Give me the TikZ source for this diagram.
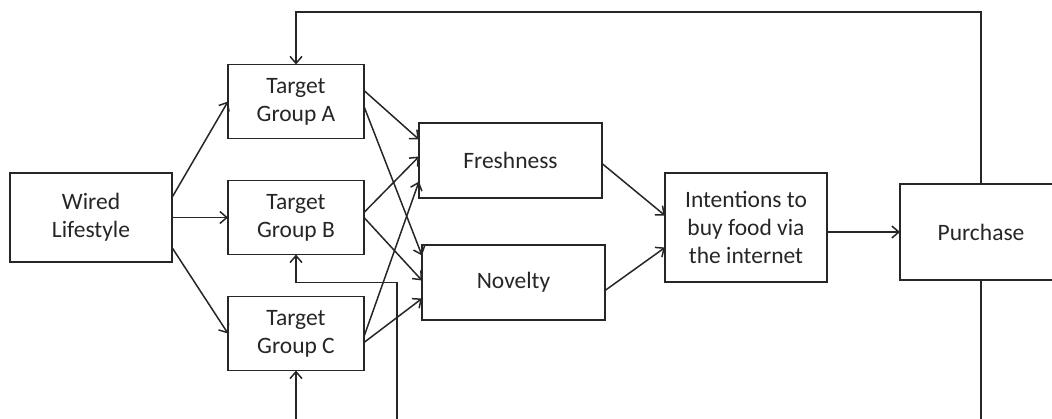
\documentclass[tikz,border=0pt]{standalone}
\usepackage{fontspec}
\setmainfont{Carlito}
\usepackage{xcolor}
\usetikzlibrary{arrows.meta,positioning,calc}
\definecolor{inkgray}{HTML}{262626}

\begin{document}
\begin{tikzpicture}[x=1pt,y=-1pt,
		bx/.style={draw=inkgray,line width=1.5pt,outer sep=0pt,inner sep=0pt,
				minimum width=136pt,minimum height=74pt,align=center,text=inkgray,
				font=\fontsize{23.5}{28}\selectfont},
		ar/.style={-{Straight Barb[length=7pt,width=12pt]},draw=inkgray,line width=1.5pt},
		ln/.style={draw=inkgray,line width=1.5pt}
		]
		\useasboundingbox (0,0) rectangle (1052,418);
		\clip (0,0) rectangle (1052,418);
		\node[bx,minimum width=162pt,minimum height=89pt] (w) at (91,217.5) {Wired\\Lifestyle};
		\node[bx,right=56pt of w] (tb) {Target\\Group B};
		\node[bx,above=42pt of tb] (ta) {Target\\Group A};
		\node[bx,below=42pt of tb] (tc) {Target\\Group C};
		\node[bx,minimum width=183pt,minimum height=75pt,right=55pt of tb,yshift=57pt] (fr) {Freshness};
		\node[bx,minimum width=183pt,minimum height=75pt,below=47pt of fr,xshift=3pt] (nv) {Novelty};
		\node[bx,minimum width=162pt,minimum height=109pt,right=60pt of nv,yshift=55pt] (in) {Intentions to\\buy food via\\the internet};
		\node[bx,minimum width=162pt,minimum height=96pt,right=73pt of in,yshift=-4.5pt] (pu) {Purchase};
		\coordinate (topc) at (296,12);
		\coordinate (bot) at (0,430);
		\coordinate (fb) at (397,430);
		% lifestyle to groups
		\draw[ar] ([yshift=20pt]w.east) -- (ta.west);
		\draw[ar] (w) -- (tb);
		\draw[ar] ([yshift=-30pt]w.east) -- (tc.west);
		% groups to freshness / novelty
		\draw[ar] ([yshift=11pt]ta.east) -- ([yshift=21pt]fr.west);
		\draw[ar] ([yshift=-5pt]ta.east) -- ([yshift=27pt]nv.west);
		\draw[ar] ([yshift=5pt]tb.east) -- ([yshift=4pt]fr.west);
		\draw[ar] (tb.east) -- ([yshift=2pt]nv.west);
		\draw[ar] ([yshift=-3pt]tc.east) -- ([yshift=-21pt]fr.west);
		\draw[ar] ([yshift=-9pt]tc.east) -- ([yshift=-16pt]nv.west);
		\draw[ar] ([yshift=-3pt]fr.east) -- ([yshift=12pt]in.west);
		\draw[ar] ([yshift=-8pt]nv.east) -- ([yshift=-20pt]in.west);
		\draw[ar] (in.east |- pu.west) -- (pu.west);
		% feedback lines
		\draw[ar] (pu.north) |- (topc) -- (ta.north);
		\draw[ln] (pu.south) -- (pu.south |- bot);
		\draw[ar] (fb) |- ($(tb.south)+(0,28)$) -- (tb.south);
		\draw[ar] (tc.south |- bot) -- (tc.south);
	\end{tikzpicture}
\end{document}
